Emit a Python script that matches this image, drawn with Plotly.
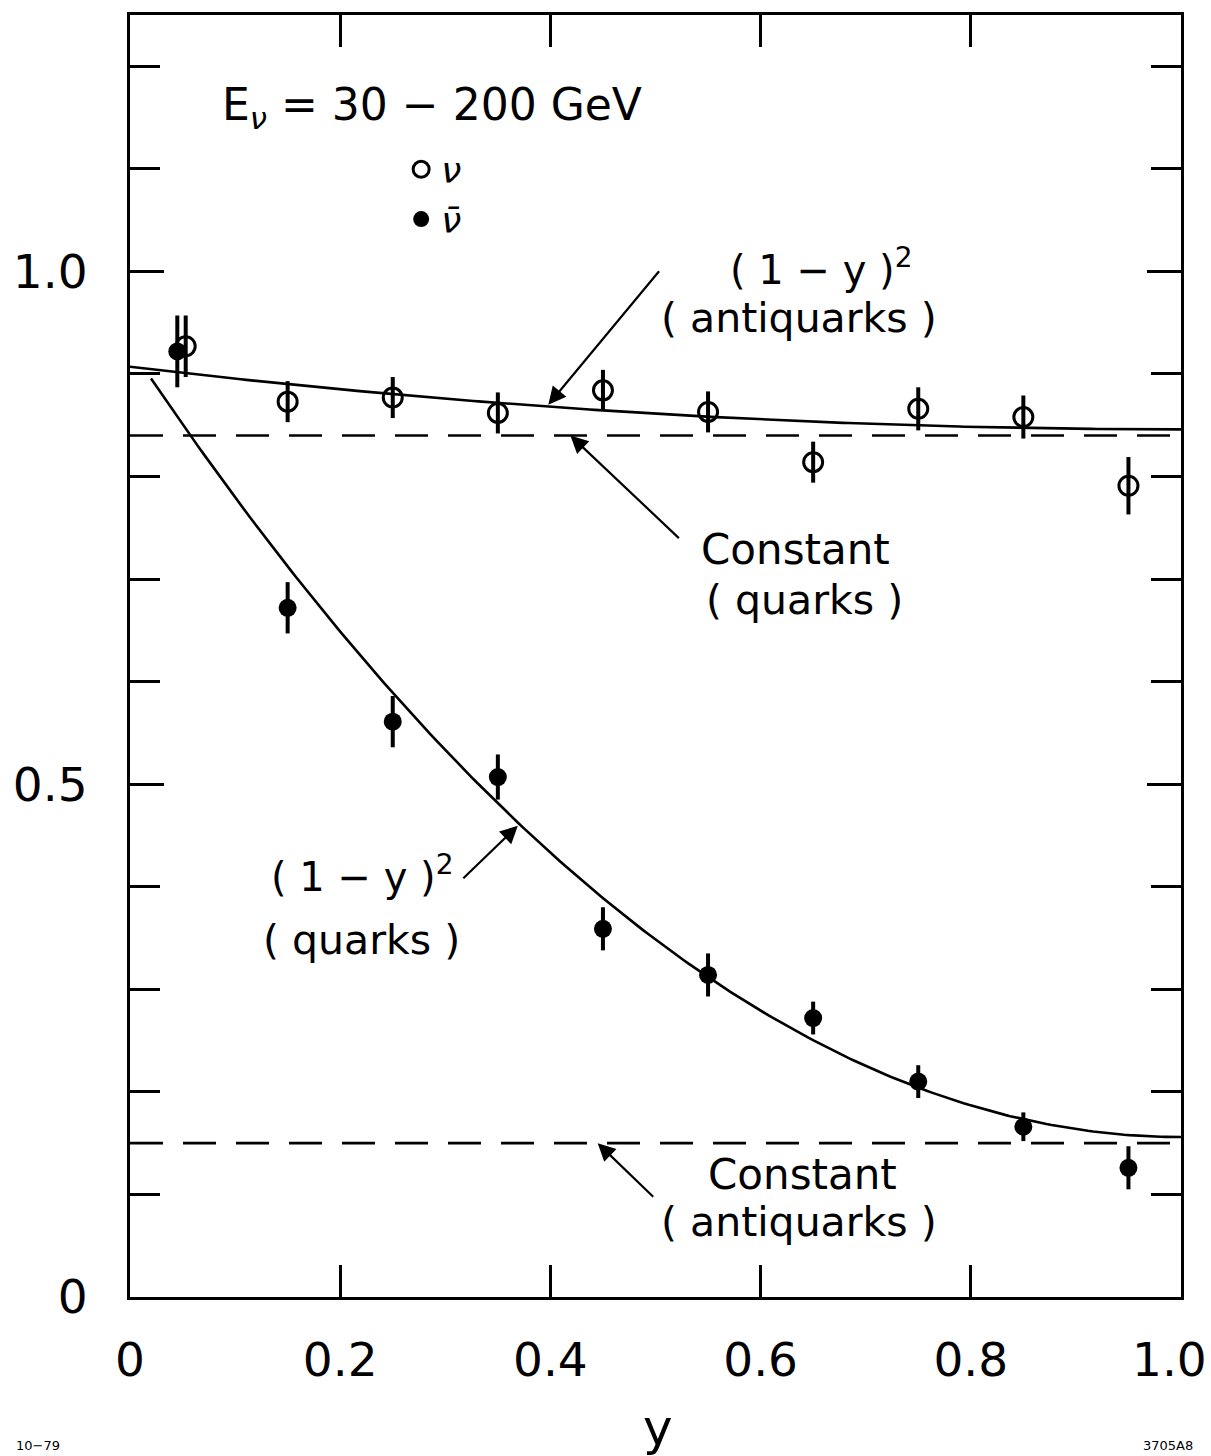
import numpy as np
import plotly.graph_objects as go

# y-bin centres and measured ratios
y_nu = [0.053, 0.15, 0.25, 0.35, 0.45, 0.55, 0.65, 0.75, 0.85, 0.95]
r_nu = [0.927, 0.873, 0.877, 0.862, 0.884, 0.863, 0.814, 0.866, 0.858, 0.791]
e_nu = [0.030, 0.020, 0.020, 0.020, 0.020, 0.020, 0.020, 0.021, 0.021, 0.028]

y_nubar = [0.045, 0.15, 0.25, 0.35, 0.45, 0.55, 0.65, 0.75, 0.85, 0.95]
r_nubar = [0.922, 0.672, 0.561, 0.507, 0.359, 0.314, 0.272, 0.210, 0.166, 0.126]
e_nubar = [0.035, 0.025, 0.025, 0.022, 0.021, 0.021, 0.016, 0.016, 0.014, 0.021]

# model curves: const + amp * (1 - y)^2
nu_const, nu_amp = 0.846, 0.061
nubar_const, nubar_amp = 0.156, 0.770
nu_flat = 0.840      # constant (quarks)
nubar_flat = 0.150   # constant (antiquarks)

x_tick_vals = [0, 0.2, 0.4, 0.6, 0.8, 1.0]
x_tick_text = ["0", "0.2", "0.4", "0.6", "0.8", "1.0"]
y_tick_vals = [0, 0.5, 1.0]
y_tick_text = ["0", "0.5", "1.0"]

FONT = "DejaVu Sans"
INK = "black"
TICK_SIZE = 47

fig = go.Figure()

yy_nu = np.linspace(0.0, 1.0, 200)
yy_nubar = np.linspace(0.02, 1.0, 200)

fig.add_trace(go.Scatter(x=yy_nu, y=nu_const + nu_amp * (1 - yy_nu) ** 2, mode="lines",
                         line=dict(color=INK, width=2.6), showlegend=False, hoverinfo="skip"))
fig.add_trace(go.Scatter(x=yy_nubar, y=nubar_const + nubar_amp * (1 - yy_nubar) ** 2, mode="lines",
                         line=dict(color=INK, width=2.6), showlegend=False, hoverinfo="skip"))
fig.add_trace(go.Scatter(x=[0, 1], y=[nu_flat, nu_flat], mode="lines",
                         line=dict(color=INK, width=2.6, dash="33px,20px"),
                         showlegend=False, hoverinfo="skip"))
fig.add_trace(go.Scatter(x=[0, 1], y=[nubar_flat, nubar_flat], mode="lines",
                         line=dict(color=INK, width=2.6, dash="33px,20px"),
                         showlegend=False, hoverinfo="skip"))

fig.add_trace(go.Scatter(
    x=y_nu, y=r_nu, mode="markers", name="<i>ν</i>",
    marker=dict(symbol="circle-open", size=19, color=INK, line=dict(width=3, color=INK)),
    error_y=dict(type="data", array=e_nu, color=INK, thickness=4, width=0),
))
fig.add_trace(go.Scatter(
    x=y_nubar, y=r_nubar, mode="markers", name="<i>ν\u0304</i>",
    marker=dict(symbol="circle", size=18, color=INK),
    error_y=dict(type="data", array=e_nubar, color=INK, thickness=4, width=0),
))

annotations = []


def label(text, x, y, size=42):
    annotations.append(dict(text=text, x=x, y=y, xref="x", yref="y", showarrow=False,
                            font=dict(family=FONT, size=size, color=INK),
                            xanchor="center", yanchor="middle"))


def arrow(x, y, ax, ay):
    annotations.append(dict(text="", x=x, y=y, xref="x", yref="y", ax=ax, ay=ay,
                            showarrow=True, arrowhead=2, arrowsize=1.6, arrowwidth=2.2,
                            arrowcolor=INK))


label("E<sub><i>ν</i></sub> = 30 − 200 GeV", 0.287, 1.160, size=44)
label("( 1 − y )<sup>2</sup>", 0.658, 1.004, size=40)
label("( antiquarks )", 0.637, 0.955, size=41)
arrow(0.398, 0.870, 112, -135)

label("Constant", 0.633, 0.729, size=42)
label("( quarks )", 0.642, 0.680, size=41)
arrow(0.419, 0.840, 110, 104)

label("( 1 − y )<sup>2</sup>", 0.221, 0.412, size=40)
label("( quarks )", 0.220, 0.348, size=41)
arrow(0.369, 0.4595, -56, 54)

label("Constant", 0.640, 0.119, size=42)
label("( antiquarks )", 0.637, 0.073, size=41)
arrow(0.445, 0.150, 57, 55)

# last x tick label sits flush with the page edge, so it is right-aligned there
annotations.append(dict(text=x_tick_text[-1], x=1.0266, y=-0.0485, xref="paper", yref="paper",
                        showarrow=False, font=dict(family=FONT, size=TICK_SIZE, color=INK),
                        xanchor="right", yanchor="middle"))
annotations.append(dict(text="y", x=0.502, y=-0.102, xref="paper", yref="paper",
                        showarrow=False, font=dict(family=FONT, size=50, color=INK),
                        xanchor="center", yanchor="middle"))
annotations.append(dict(text="10−79", x=-0.088, y=-0.116, xref="paper", yref="paper",
                        showarrow=False, font=dict(family=FONT, size=13, color=INK),
                        xanchor="center", yanchor="middle"))
annotations.append(dict(text="3705A8", x=0.988, y=-0.116, xref="paper", yref="paper",
                        showarrow=False, font=dict(family=FONT, size=13, color=INK),
                        xanchor="center", yanchor="middle"))

axis_common = dict(showline=True, linewidth=3, linecolor=INK, mirror="ticks",
                   ticks="inside", tickwidth=3, tickcolor=INK, showgrid=False,
                   zeroline=False, automargin=False,
                   tickfont=dict(family=FONT, size=TICK_SIZE, color=INK))

fig.update_layout(
    width=1211, height=1456,
    margin=dict(l=130, r=30, t=15, b=159),
    paper_bgcolor="white", plot_bgcolor="white",
    font=dict(family=FONT, color=INK),
    annotations=annotations,
    showlegend=True,
    legend=dict(x=0.258, y=0.903, xanchor="left", yanchor="top",
                font=dict(family=FONT, size=36, color=INK),
                bgcolor="rgba(0,0,0,0)", itemwidth=30, tracegroupgap=0),
    xaxis=dict(range=[0, 1.0], tickvals=x_tick_vals,
               ticktext=x_tick_text[:-1] + [""],
               ticklen=32, ticklabelstandoff=20, **axis_common),
    yaxis=dict(range=[0, 1.25], tickvals=y_tick_vals, ticktext=y_tick_text,
               ticklen=34, ticklabelstandoff=30,
               minor=dict(dtick=0.1, tick0=0, ticks="inside", ticklen=30,
                          tickwidth=3, tickcolor=INK, showgrid=False),
               **axis_common),
)

fig.write_html("out.html")
